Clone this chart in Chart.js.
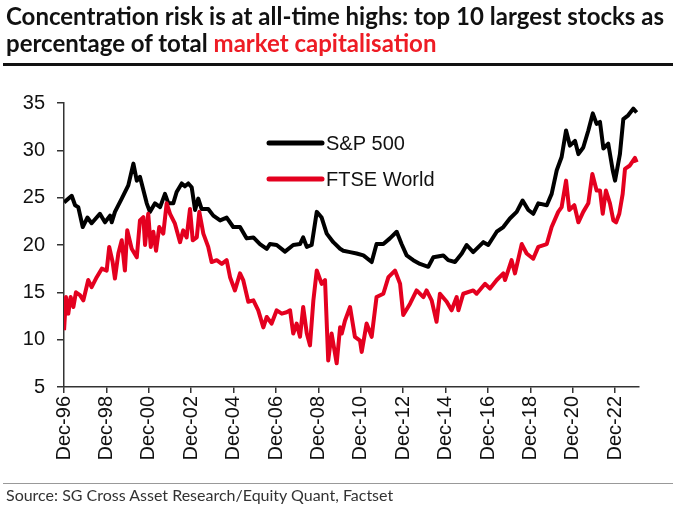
<!DOCTYPE html>
<html>
<head>
<meta charset="utf-8">
<script src="https://cdn.jsdelivr.net/npm/chart.js@4.4.1/dist/chart.umd.min.js"></script>
<style>
    html, body { margin: 0; padding: 0; background: #fff; }
    #wrap { position: relative; width: 676px; height: 507px; overflow: hidden; }
    #title {
        position: absolute; left: 6px; top: 2px; width: 672px;
        font-family: Lato, "Open Sans", sans-serif; font-weight: 700;
        font-size: 24px; line-height: 27px; color: #111; white-space: nowrap;
    }
    #title .red { color: #ee1c25; }
    #rule { position: absolute; left: 3px; width: 670px; top: 63px; height: 3px; background: #111; }
    #chart { position: absolute; left: 0; top: 0; }
    #srcRule { position: absolute; left: 3px; width: 670px; top: 483px; height: 1px; background: #999; }
    #source {
        position: absolute; left: 6px; top: 485px;
        font-family: Lato, "Open Sans", sans-serif; font-size: 16px; color: #333; white-space: nowrap;
    }
</style>
</head>
<body>
<div id="wrap">
    <canvas id="chart" width="676" height="507"></canvas>
    <div id="title">Concentration risk is at all-time highs: top 10 largest stocks as<br>percentage of total <span class="red">market capitalisation</span></div>
    <div id="rule"></div>
    <div id="srcRule"></div>
    <div id="source">Source: SG Cross Asset Research/Equity Quant, Factset</div>
</div>
<script>
// Data (x = decimal year, y = % of total market cap)
const seriesNames = ['S&P 500', 'FTSE World'];

const spxYears = [
    1996.92, 1997.28, 1997.44, 1997.59, 1997.80, 1998.02, 1998.22, 1998.61, 1998.85, 1999.09,
    1999.17, 1999.32, 1999.64, 1999.95, 2000.19, 2000.35, 2000.50, 2000.66, 2000.82, 2000.97,
    2001.21, 2001.45, 2001.68, 2001.84, 2002.07, 2002.23, 2002.47, 2002.62, 2002.78, 2002.94,
    2003.10, 2003.25, 2003.41, 2003.72, 2003.96, 2004.28, 2004.59, 2004.90, 2005.22, 2005.53,
    2005.85, 2006.16, 2006.48, 2006.63, 2006.95, 2007.34, 2007.73, 2008.05, 2008.20, 2008.37,
    2008.60, 2008.84, 2009.07, 2009.31, 2009.62, 2009.94, 2010.09, 2010.41, 2010.72, 2011.04,
    2011.43, 2011.66, 2011.98, 2012.29, 2012.61, 2012.84, 2013.08, 2013.39, 2013.71, 2014.10,
    2014.34, 2014.81, 2015.04, 2015.36, 2015.68, 2015.91, 2016.22, 2016.70, 2016.93, 2017.33,
    2017.64, 2017.95, 2018.27, 2018.55, 2018.82, 2019.05, 2019.29, 2019.69, 2019.92, 2020.16,
    2020.39, 2020.60, 2020.78, 2021.02, 2021.18, 2021.41, 2021.65, 2021.86, 2022.04, 2022.20,
    2022.36, 2022.59, 2022.80, 2022.91, 2023.14, 2023.30, 2023.53, 2023.77, 2023.93
];
const spxValues = [
    24.5, 25.2, 24.2, 24.0, 21.9, 22.9, 22.3, 23.3, 22.4, 23.1,
    22.4, 23.5, 24.9, 26.3, 28.6, 26.8, 27.2, 25.8, 24.4, 23.5,
    24.4, 24.0, 25.4, 24.4, 24.4, 25.6, 26.5, 26.2, 26.5, 26.1,
    23.7, 24.9, 23.8, 23.8, 23.1, 22.6, 22.9, 21.9, 21.9, 20.7,
    20.8, 20.1, 19.6, 20.1, 20.0, 19.3, 20.0, 20.1, 20.8, 19.8,
    20.0, 23.5, 22.9, 21.2, 20.3, 19.6, 19.4, 19.25, 19.1, 18.9,
    18.2, 20.1, 20.1, 20.7, 21.4, 20.1, 18.9, 18.4, 18.0, 17.7,
    18.7, 18.9, 18.4, 18.2, 19.1, 20.0, 19.25, 20.3, 20.0, 21.4,
    21.9, 22.8, 23.5, 24.7, 23.7, 23.3, 24.4, 24.2, 25.4, 27.9,
    29.3, 32.1, 30.5, 31.0, 29.6, 30.3, 32.1, 33.9, 32.8, 33.0,
    30.2, 30.7, 27.9, 26.8, 29.6, 33.3, 33.7, 34.4, 34.0
];

const ftseYears = [
    1996.92, 1997.01, 1997.12, 1997.23, 1997.36, 1997.48, 1997.67, 1997.83, 1998.06, 1998.22,
    1998.46, 1998.70, 1998.93, 1999.05, 1999.21, 1999.32, 1999.48, 1999.64, 1999.79, 1999.90,
    2000.11, 2000.35, 2000.50, 2000.66, 2000.74, 2000.89, 2001.01, 2001.13, 2001.26, 2001.41,
    2001.60, 2001.76, 2001.92, 2002.15, 2002.39, 2002.54, 2002.70, 2002.86, 2002.99, 2003.18,
    2003.30, 2003.49, 2003.72, 2003.88, 2004.12, 2004.36, 2004.59, 2004.75, 2004.98, 2005.22,
    2005.37, 2005.61, 2005.85, 2006.08, 2006.32, 2006.48, 2006.71, 2006.95, 2007.19, 2007.42,
    2007.58, 2007.73, 2007.89, 2008.05, 2008.20, 2008.37, 2008.52, 2008.68, 2008.84, 2009.07,
    2009.23, 2009.38, 2009.54, 2009.78, 2009.94, 2010.02, 2010.17, 2010.41, 2010.64, 2010.88,
    2010.96, 2011.19, 2011.43, 2011.66, 2011.98, 2012.22, 2012.53, 2012.77, 2012.92, 2013.24,
    2013.55, 2013.87, 2014.02, 2014.26, 2014.49, 2014.65, 2014.97, 2015.20, 2015.44, 2015.52,
    2015.75, 2016.22, 2016.38, 2016.78, 2017.01, 2017.33, 2017.64, 2017.72, 2018.03, 2018.19,
    2018.51, 2018.74, 2019.05, 2019.29, 2019.69, 2019.92, 2020.23, 2020.39, 2020.60, 2020.75,
    2020.99, 2021.18, 2021.41, 2021.65, 2021.84, 2022.04, 2022.20, 2022.33, 2022.48, 2022.67,
    2022.83, 2022.96, 2023.11, 2023.27, 2023.38, 2023.61, 2023.85, 2023.93
];
const ftseValues = [
    11.0, 14.5, 12.75, 14.5, 13.45, 15.0, 14.7, 14.15, 16.3, 15.55,
    16.6, 17.5, 17.3, 19.8, 18.2, 16.45, 19.1, 20.5, 17.3, 21.55,
    19.6, 18.7, 22.6, 22.95, 20.0, 23.3, 19.8, 21.4, 19.4, 21.9,
    21.2, 24.4, 23.3, 22.25, 20.3, 21.55, 20.8, 23.8, 20.5, 20.8,
    23.5, 21.2, 19.8, 18.2, 18.4, 18.0, 18.4, 16.6, 15.2, 17.0,
    16.3, 14.0, 14.15, 13.1, 11.3, 12.4, 11.7, 13.1, 12.75, 12.9,
    13.1, 10.65, 11.7, 10.3, 13.45, 10.65, 9.4, 14.15, 17.3, 15.9,
    16.3, 7.8, 10.65, 7.5, 11.3, 10.65, 12.0, 13.45, 10.3, 9.9,
    8.7, 11.7, 10.3, 14.5, 14.85, 16.6, 17.3, 15.9, 12.6, 13.8,
    15.2, 14.5, 15.2, 14.15, 11.9, 14.85, 14.0, 13.1, 14.5, 13.1,
    14.85, 15.2, 14.85, 15.9, 15.4, 16.3, 17.0, 16.3, 18.4, 17.0,
    20.1, 19.1, 18.55, 19.8, 20.1, 21.9, 23.5, 24.0, 26.8, 23.7,
    24.2, 22.4, 23.5, 24.4, 27.5, 25.75, 25.75, 23.3, 25.75, 24.4,
    22.6, 22.4, 23.3, 25.4, 28.05, 28.4, 29.2, 28.75
];

// x axis: a tick every December of even years
const xTickYears = [1996.917, 1998.917, 2000.917, 2002.917, 2004.917, 2006.917, 2008.917,
    2010.917, 2012.917, 2014.917, 2016.917, 2018.917, 2020.917, 2022.917];
const xTickLabels = ['Dec-96', 'Dec-98', 'Dec-00', 'Dec-02', 'Dec-04', 'Dec-06', 'Dec-08',
    'Dec-10', 'Dec-12', 'Dec-14', 'Dec-16', 'Dec-18', 'Dec-20', 'Dec-22'];
const xMin = 1996.917;
const xMax = 2024.04;
const yMin = 5;
const yMax = 35;
const yStep = 5;

const BLACK = '#000000';
const RED = '#e4001f';
const AXIS = '#333333';
const TICK_FONT = { family: 'Liberation Sans, Arial, sans-serif', size: 20 };

const toPoints = (xs, ys) => xs.map((x, i) => ({ x: x, y: ys[i] }));

// Legend drawn inside the plot area
const insideLegend = {
    id: 'insideLegend',
    afterDatasetsDraw(chart) {
        const ctx = chart.ctx;
        const left = chart.chartArea.left + 205;
        const rows = [
            { label: seriesNames[0], color: BLACK, y: 143 },
            { label: seriesNames[1], color: RED, y: 179 }
        ];
        ctx.save();
        rows.forEach(r => {
            ctx.strokeStyle = r.color;
            ctx.lineWidth = 5;
            ctx.lineCap = 'round';
            ctx.beginPath();
            ctx.moveTo(left, r.y);
            ctx.lineTo(left + 53, r.y);
            ctx.stroke();
            ctx.fillStyle = '#111';
            ctx.font = '20px "Liberation Sans", Arial, sans-serif';
            ctx.textBaseline = 'middle';
            ctx.fillText(r.label, left + 57, r.y + 1);
        });
        ctx.restore();
    }
};

new Chart(document.getElementById('chart'), {
    type: 'line',
    data: {
        datasets: [{
            label: seriesNames[0],
            data: toPoints(spxYears, spxValues),
            borderColor: BLACK,
            borderWidth: 4,
            pointRadius: 0,
            tension: 0,
            borderJoinStyle: 'round',
            order: 1
        }, {
            label: seriesNames[1],
            data: toPoints(ftseYears, ftseValues),
            borderColor: RED,
            borderWidth: 4,
            pointRadius: 0,
            tension: 0,
            borderJoinStyle: 'round',
            order: 0
        }]
    },
    options: {
        responsive: false,
        animation: false,
        layout: { padding: { left: 0, top: 103, right: 37, bottom: 0 } },
        plugins: {
            legend: { display: false },
            tooltip: { enabled: false }
        },
        scales: {
            x: {
                type: 'linear',
                min: xMin,
                max: xMax,
                afterBuildTicks: (scale) => {
                    scale.ticks = xTickYears.map(v => ({ value: v }));
                },
                afterFit: (scale) => { scale.height = 120; },
                ticks: {
                    autoSkip: false,
                    minRotation: 90,
                    maxRotation: 90,
                    color: '#111',
                    font: TICK_FONT,
                    padding: 3,
                    callback: (value, index) => xTickLabels[index]
                },
                grid: { drawOnChartArea: false, drawTicks: true, tickLength: 6, color: AXIS, lineWidth: 1.5 },
                border: { display: true, color: AXIS, width: 1.5 }
            },
            y: {
                min: yMin,
                max: yMax,
                afterFit: (scale) => { scale.width = 64; },
                ticks: { stepSize: yStep, color: '#111', font: TICK_FONT, padding: 12 },
                grid: { drawOnChartArea: false, drawTicks: true, tickLength: 7, color: AXIS, lineWidth: 1.5 },
                border: { display: true, color: AXIS, width: 1.5 }
            }
        }
    },
    plugins: [insideLegend]
});
</script>
</body>
</html>
